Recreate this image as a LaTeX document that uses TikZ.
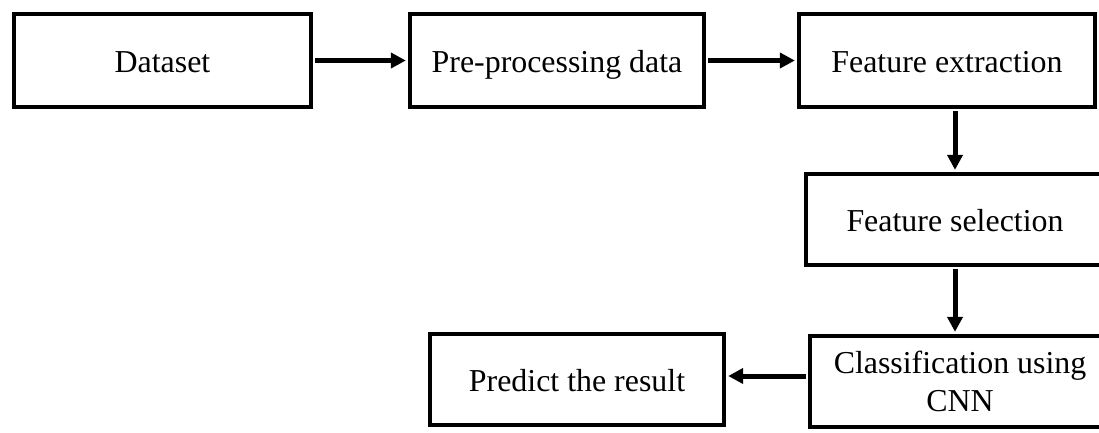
\documentclass[tikz,border=0pt]{standalone}
\usepackage{fontspec}
\setmainfont{Liberation Serif}
\usetikzlibrary{arrows.meta}
\begin{document}
\begin{tikzpicture}[x={(1pt,0)},y={(0,-1pt)},
  box/.style={draw=black,line width=4.3pt,rectangle,inner sep=0pt,align=center,
    font=\fontsize{31.9}{38}\selectfont,fill=white},
  one/.style={text height=29pt,text depth=5pt},
  arr/.style={line width=5pt,-{Triangle[length=15pt,width=15pt]},shorten >=2pt,shorten <=2pt}]
\useasboundingbox (0,0) rectangle (1099,432);
\clip (0,0) rectangle (1099,432);
\fill[white] (0,0) rectangle (1099,432);
\node[box,one,minimum width=297pt,minimum height=93pt] (ds) at (162.5,60.5) {Dataset};
\node[box,one,minimum width=294pt,minimum height=93pt] (pre) at (557,60.5) {Pre-processing data};
\node[box,one,minimum width=296pt,minimum height=93pt] (fe) at (947,60.5) {Feature extraction};
\node[box,one,minimum width=298pt,minimum height=91pt] (fs) at (955,219.5) {Feature selection};
\node[box,minimum width=300pt,minimum height=91pt] (cls) at (960,381.5) {Classification using\\CNN};
\node[box,one,minimum width=294pt,minimum height=91pt] (pr) at (577,379.5) {Predict the result};
\draw[arr] (ds.east) -- (pre.west);
\draw[arr] (pre.east) -- (fe.west);
\draw[arr] (fe.south -| fs.north) -- (fs.north);
\draw[arr] (fs.south) -- (fs.south |- cls.north);
\coordinate (cw) at ([yshift=5.5pt]cls.west);
\draw[arr] (cw) -- (cw -| pr.east);
\end{tikzpicture}
\end{document}
